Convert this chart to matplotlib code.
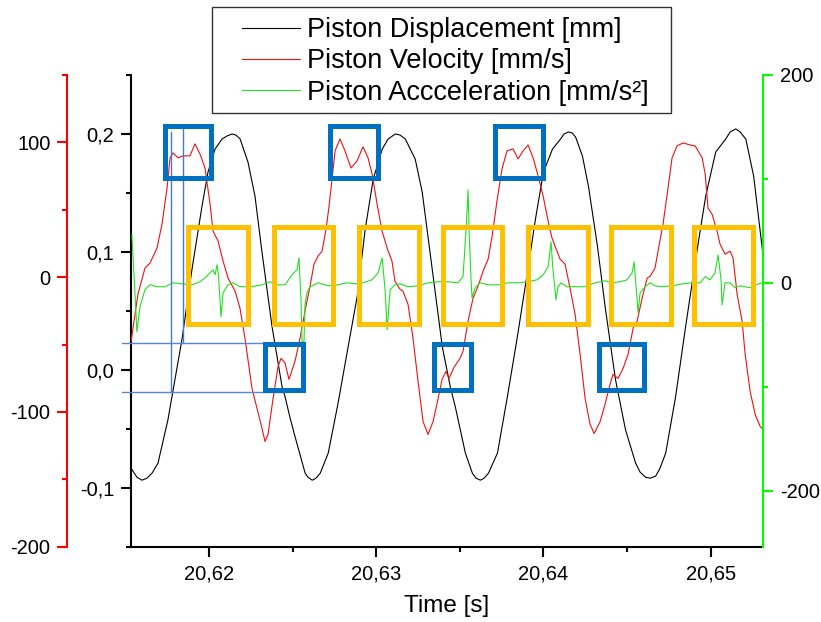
import matplotlib
matplotlib.use("Agg")
import matplotlib.pyplot as plt
from matplotlib.patches import Rectangle
from matplotlib.lines import Line2D
from matplotlib.ticker import MultipleLocator, FuncFormatter, FixedLocator

plt.rcParams['font.family'] = ['Liberation Sans', 'DejaVu Sans']

# ---------------- data ----------------
disp_t = [20.61532, 20.61569, 20.61599, 20.61629, 20.61659, 20.61695, 20.61754, 20.61796, 20.61838, 20.61898,
          20.61958, 20.61994, 20.62036, 20.62078, 20.62108, 20.62138, 20.62161, 20.62186, 20.62233, 20.62275,
          20.62317, 20.62377, 20.62437, 20.62455, 20.62485, 20.62515, 20.62575, 20.62592, 20.62617, 20.62640,
          20.62665, 20.62713, 20.62772, 20.62832, 20.62886, 20.62934, 20.62982, 20.63036, 20.63071, 20.63114,
          20.63142, 20.63174, 20.63233, 20.63275, 20.63335, 20.63395, 20.63443, 20.63473, 20.63533, 20.63575,
          20.63597, 20.63623, 20.63645, 20.63671, 20.63725, 20.63784, 20.63844, 20.63904, 20.63952, 20.64000,
          20.64054, 20.64102, 20.64123, 20.64150, 20.64171, 20.64192, 20.64233, 20.64269, 20.64323, 20.64371,
          20.64431, 20.64491, 20.64551, 20.64578, 20.64611, 20.64638, 20.64671, 20.64697, 20.64731, 20.64790,
          20.64850, 20.64910, 20.64970, 20.65030, 20.65090, 20.65116, 20.65150, 20.65176, 20.65210, 20.65257,
          20.65311, 20.65315]
disp_mm = [-0.0830, -0.0911, -0.0936, -0.0919, -0.0877, -0.0791, -0.0426, -0.0085, 0.0255, 0.0851,
           0.1387, 0.1677, 0.1872, 0.1957, 0.1983, 0.2000, 0.1991, 0.1957, 0.1762, 0.1472,
           0.0996, 0.0366, -0.0145, -0.0230, -0.0409, -0.0570, -0.0877, -0.0911, -0.0936, -0.0919,
           -0.0877, -0.0706, -0.0281, 0.0196, 0.0621, 0.1191, 0.1617, 0.1872, 0.1957, 0.2000,
           0.1991, 0.1957, 0.1787, 0.1506, 0.0851, 0.0196, -0.0145, -0.0315, -0.0706, -0.0877,
           -0.0919, -0.0936, -0.0919, -0.0877, -0.0706, -0.0230, 0.0281, 0.0826, 0.1277, 0.1677,
           0.1872, 0.1957, 0.2000, 0.2017, 0.2009, 0.1974, 0.1813, 0.1557, 0.1047, 0.0511,
           -0.0085, -0.0511, -0.0791, -0.0868, -0.0911, -0.0919, -0.0902, -0.0834, -0.0706, -0.0230,
           0.0366, 0.0936, 0.1472, 0.1847, 0.1957, 0.2017, 0.2043, 0.2017, 0.1957, 0.1643,
           0.0996, 0.0950]

vel_t = [20.61534, 20.61575, 20.61617, 20.61647, 20.61689, 20.61719, 20.61749, 20.61767, 20.61785, 20.61815,
         20.61844, 20.61886, 20.61916, 20.61946, 20.61976, 20.62006, 20.62024, 20.62054, 20.62084, 20.62114,
         20.62156, 20.62185, 20.62215, 20.62257, 20.62287, 20.62317, 20.62335, 20.62353, 20.62383, 20.62413,
         20.62431, 20.62455, 20.62478, 20.62514, 20.62544, 20.62574, 20.62604, 20.62628, 20.62652, 20.62676,
         20.62700, 20.62718, 20.62736, 20.62754, 20.62783, 20.62813, 20.62849, 20.62885, 20.62921, 20.62951,
         20.62975, 20.63005, 20.63035, 20.63065, 20.63094, 20.63112, 20.63142, 20.63160, 20.63190, 20.63220,
         20.63250, 20.63280, 20.63310, 20.63340, 20.63370, 20.63394, 20.63417, 20.63435, 20.63465, 20.63501,
         20.63519, 20.63549, 20.63579, 20.63609, 20.63639, 20.63669, 20.63693, 20.63722, 20.63752, 20.63782,
         20.63818, 20.63848, 20.63878, 20.63908, 20.63938, 20.63968, 20.63998, 20.64028, 20.64051, 20.64081,
         20.64099, 20.64129, 20.64159, 20.64189, 20.64219, 20.64249, 20.64279, 20.64303, 20.64339, 20.64368,
         20.64398, 20.64416, 20.64446, 20.64476, 20.64506, 20.64536, 20.64560, 20.64590, 20.64620, 20.64638,
         20.64667, 20.64685, 20.64715, 20.64745, 20.64769, 20.64799, 20.64835, 20.64877, 20.64907, 20.64949,
         20.64967, 20.64984, 20.65008, 20.65038, 20.65056, 20.65086, 20.65116, 20.65134, 20.65158, 20.65188,
         20.65206, 20.65236, 20.65266, 20.65296, 20.65313]
vel_mms = [-47.6, -12.6, 6.7, 10.4, 21.6, 39.4, 66.2, 88.5, 92.2, 88.5,
           90.0, 90.0, 98.9, 91.4, 81.0, 54.3, 34.2, 26.8, 11.9, -0.7,
           -10.4, -23.0, -45.4, -82.5, -97.4, -112.3, -121.9, -116.7, -90.0, -66.2,
           -60.2, -63.9, -75.8, -62.5, -45.4, -25.3, -6.7, 9.7, 15.6, 19.3,
           35.7, 52.8, 73.6, 93.7, 102.6, 93.7, 81.0, 86.2, 96.7, 88.5,
           76.6, 54.3, 34.2, 21.6, 11.9, -3.0, -8.9, -10.4, -20.1, -45.4,
           -77.3, -107.1, -116.7, -107.1, -90.0, -75.8, -69.9, -75.1, -66.9, -60.2,
           -55.0, -32.7, -15.6, -6.7, 4.5, 13.4, 30.5, 56.5, 80.3, 93.7,
           95.2, 87.7, 93.7, 98.1, 88.5, 75.1, 60.2, 41.6, 29.0, 19.3,
           13.4, 9.7, -8.2, -27.5, -57.2, -90.0, -109.3, -116.0, -107.1, -94.4,
           -79.6, -72.1, -75.1, -67.7, -57.2, -37.9, -32.7, -15.6, -0.7, 0.7,
           6.7, 19.3, 39.4, 66.2, 88.5, 97.4, 99.6, 98.1, 97.4, 88.5,
           76.6, 51.3, 46.8, 34.2, 24.5, 17.1, 19.3, 14.1, -12.6, -32.7,
           -57.2, -84.8, -101.9, -110.8, -113.0]

acc_t = [20.61539, 20.61569, 20.61587, 20.61617, 20.61647, 20.61689, 20.61737, 20.61785, 20.61839, 20.61898,
         20.61946, 20.61976, 20.62006, 20.62024, 20.62036, 20.62048, 20.62057, 20.62072, 20.62084, 20.62114,
         20.62144, 20.62185, 20.62257, 20.62317, 20.62365, 20.62407, 20.62455, 20.62496, 20.62526, 20.62538,
         20.62550, 20.62556, 20.62568, 20.62574, 20.62586, 20.62604, 20.62652, 20.62712, 20.62772, 20.62825,
         20.62873, 20.62921, 20.62975, 20.63011, 20.63035, 20.63053, 20.63065, 20.63083, 20.63112, 20.63142,
         20.63190, 20.63250, 20.63310, 20.63370, 20.63429, 20.63489, 20.63519, 20.63537, 20.63549, 20.63555,
         20.63567, 20.63573, 20.63591, 20.63621, 20.63669, 20.63728, 20.63788, 20.63848, 20.63908, 20.63962,
         20.63998, 20.64028, 20.64045, 20.64057, 20.64075, 20.64087, 20.64105, 20.64141, 20.64189, 20.64249,
         20.64309, 20.64368, 20.64410, 20.64458, 20.64500, 20.64530, 20.64542, 20.64554, 20.64566, 20.64578,
         20.64608, 20.64638, 20.64667, 20.64709, 20.64769, 20.64829, 20.64889, 20.64937, 20.64967, 20.64996,
         20.65026, 20.65044, 20.65062, 20.65068, 20.65086, 20.65116, 20.65146, 20.65176, 20.65206, 20.65236,
         20.65266, 20.65313]
acc_mms2 = [46.2, -47.1, -23.1, -6.7, -1.9, -3.8, -3.8, 0.0, -1.0, -1.9,
            1.0, 4.8, 9.6, 12.5, 7.7, 17.3, 5.8, -32.7, -9.6, -1.9,
            0.0, -3.8, -3.8, -1.9, 1.0, -1.9, -1.9, 7.7, 12.5, 24.0,
            -16.3, -56.7, -56.7, -21.2, -9.6, -3.8, 0.0, -2.9, -1.9, 0.0,
            -1.0, 0.0, 2.9, 9.6, 24.0, -6.7, -45.2, -6.7, -1.9, -1.0,
            -3.8, -2.9, 0.0, 1.0, 1.0, 0.0, 5.8, 51.0, 89.4, 51.0,
            2.9, -14.4, -4.8, 0.0, -1.9, -1.9, 0.0, 0.0, 1.0, 2.9,
            7.7, 15.4, 39.4, 12.5, -16.3, -3.8, 0.0, -3.8, -3.8, -3.8,
            0.0, 1.9, 0.0, 1.0, 2.9, 9.6, 20.2, -3.8, -28.8, -9.6,
            -3.8, 0.0, -2.9, -3.8, -2.9, -1.0, 0.0, 0.0, 5.8, 2.9,
            9.6, 26.9, 2.9, -21.2, 0.0, 0.0, -4.8, -2.9, -3.8, -4.8,
            -1.9, 0.0]

x_major = [20.62, 20.63, 20.64, 20.65]
legend_labels = ["Piston Displacement [mm]", "Piston Velocity [mm/s]", "Piston Accceleration [mm/s\u00b2]"]

# annotation boxes (time start, time end, displacement bottom, displacement top)
blue_t0 = [20.617398, 20.627207, 20.637105, 20.623349, 20.633457, 20.643325]
blue_t1 = [20.620090, 20.630078, 20.639946, 20.625622, 20.635670, 20.646017]
blue_d0 = [0.1630, 0.1630, 0.1630, -0.0172, -0.0172, -0.0172]
blue_d1 = [0.2065, 0.2065, 0.2065, 0.0220, 0.0220, 0.0220]
orange_t0 = [20.618714, 20.623888, 20.628941, 20.633965, 20.639049, 20.644043, 20.648977]
orange_t1 = [20.622303, 20.627416, 20.632560, 20.637524, 20.642638, 20.647632, 20.652536]
orange_d0 = 0.0392
orange_d1 = 0.1207
# thin guide lines
vguide_t = [20.617727, 20.618463]
vguide_d0 = [-0.0189, 0.0229]
vguide_d1 = [0.2015, 0.2072]
hguide_d = [0.0229, -0.0189]
hguide_t0 = [20.614797, 20.614797]
hguide_t1 = [20.624647, 20.624545]

# ---------------- figure ----------------
W, H = 821, 622
fig = plt.figure(figsize=(W / 100, H / 100), dpi=100)
L, R, T, B = 130.7, 763.3, 75.0, 546.7
ax = fig.add_axes([L / W, 1 - B / H, (R - L) / W, (B - T) / H])
ax_v = ax.twinx()
ax_a = ax.twinx()

RED = '#ff0000'
GREEN_SPINE = '#00ff00'
TICK_FS = 14.5

l1, = ax.plot(disp_t, disp_mm, color='black', lw=0.8)
l2, = ax_v.plot(vel_t, vel_mms, color='#ee1111', lw=0.8)
l3, = ax_a.plot(acc_t, acc_mms2, color='#22e022', lw=0.8)

ax.set_xlim(20.615317, 20.653146)
ax.set_ylim(-0.15, 0.25)
ax_v.set_ylim(-200, 150)
ax_a.set_ylim(-254, 200)

# main axis styling
for s in ['top', 'right']:
    ax.spines[s].set_visible(False)
for s in ['left', 'bottom']:
    ax.spines[s].set_linewidth(1.5)
ax.xaxis.set_major_locator(FixedLocator(x_major))
ax.xaxis.set_minor_locator(MultipleLocator(0.005))
ax.xaxis.set_major_formatter(FuncFormatter(lambda v, p: f"{v:.2f}".replace('.', ',')))
ax.yaxis.set_major_locator(MultipleLocator(0.1))
ax.yaxis.set_minor_locator(MultipleLocator(0.05))


def dfmt(v, p):
    v = round(v, 3)
    if abs(v) < 1e-9:
        v = 0.0
    return f"{v:.1f}".replace('.', ',')


ax.yaxis.set_major_formatter(FuncFormatter(dfmt))
ax.tick_params(which='major', length=7, width=1.5, labelsize=TICK_FS, direction='out')
ax.tick_params(which='minor', length=3.5, width=1.5, direction='out')
ax.tick_params(axis='x', which='major', pad=6)
ax.tick_params(axis='y', which='major', pad=5)
ax.set_xlabel("Time [s]", fontsize=17.5, labelpad=8)

# velocity axis (red, left, offset)
for s in ['top', 'right', 'bottom']:
    ax_v.spines[s].set_visible(False)
ax_v.spines['left'].set_visible(True)
ax_v.spines['left'].set_position(('outward', 45.8))
ax_v.spines['left'].set_color(RED)
ax_v.spines['left'].set_linewidth(1.5)
ax_v.yaxis.set_ticks_position('left')
ax_v.yaxis.set_label_position('left')
ax_v.yaxis.set_major_locator(MultipleLocator(100))
ax_v.yaxis.set_minor_locator(MultipleLocator(50))
ax_v.yaxis.set_major_formatter(FuncFormatter(lambda v, p: f"{int(round(v))}"))
ax_v.tick_params(axis='y', which='major', length=7, width=1.5, colors=RED, labelcolor='black',
                 labelsize=TICK_FS, pad=5)
ax_v.tick_params(axis='y', which='minor', length=3.5, width=1.5, colors=RED)

# acceleration axis (green, right)
for s in ['top', 'left', 'bottom']:
    ax_a.spines[s].set_visible(False)
ax_a.spines['right'].set_color(GREEN_SPINE)
ax_a.spines['right'].set_linewidth(1.5)
ax_a.yaxis.set_major_locator(MultipleLocator(200))
ax_a.yaxis.set_minor_locator(MultipleLocator(100))
ax_a.yaxis.set_major_formatter(FuncFormatter(lambda v, p: f"{int(round(v))}"))
ax_a.tick_params(axis='y', which='major', length=7, width=1.5, colors=GREEN_SPINE, labelcolor='black',
                 labelsize=TICK_FS, pad=5)
ax_a.tick_params(axis='y', which='minor', length=3.5, width=1.5, colors=GREEN_SPINE)

# annotation boxes (drawn over the curves)
for t0, t1, d0, d1 in zip(blue_t0, blue_t1, blue_d0, blue_d1):
    ax_a.add_patch(Rectangle((t0, d0), t1 - t0, d1 - d0, transform=ax.transData, fill=False,
                             edgecolor='#0070c0', lw=3.6, joinstyle='miter', zorder=5, clip_on=False))
for t0, t1 in zip(orange_t0, orange_t1):
    ax_a.add_patch(Rectangle((t0, orange_d0), t1 - t0, orange_d1 - orange_d0, transform=ax.transData,
                             fill=False, edgecolor='#ffc000', lw=3.6, joinstyle='miter', zorder=5,
                             clip_on=False))
for t, d0, d1 in zip(vguide_t, vguide_d0, vguide_d1):
    ax_a.add_line(Line2D([t, t], [d0, d1], transform=ax.transData, color='#4a78cc', lw=1.0,
                         zorder=4, clip_on=False))
for d, t0, t1 in zip(hguide_d, hguide_t0, hguide_t1):
    ax_a.add_line(Line2D([t0, t1], [d, d], transform=ax.transData, color='#5a86d4', lw=1.0,
                         zorder=4, clip_on=False))
ax_a.set_ylim(-254, 200)
ax.set_xlim(20.615317, 20.653146)

# legend with a square frame
fig.add_artist(Rectangle((212 / W, 1 - 113 / H), 458.7 / W, 106 / H, transform=fig.transFigure,
                         facecolor='white', edgecolor='#333333', lw=1.0, zorder=4))
fig.legend([l1, l2, l3], legend_labels, loc='upper left', bbox_to_anchor=(241.7 / W, 1 - 17 / H),
           frameon=False, borderpad=0, borderaxespad=0, handlelength=2.15, handletextpad=0.25,
           labelspacing=0.2, prop={'size': 19.5})

fig.savefig("out.png", dpi=100)
